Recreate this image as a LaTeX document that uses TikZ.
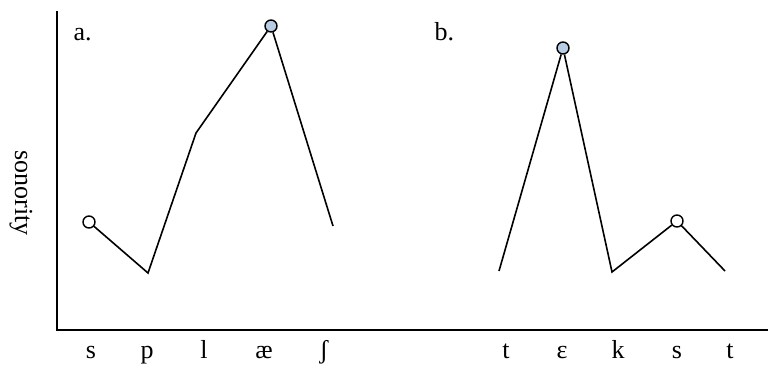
\documentclass[tikz,border=0pt]{standalone}
\usepackage{fontspec}
\setmainfont{Liberation Serif}
\usepackage{tikz}
\usetikzlibrary{positioning}

\definecolor{peakblue}{RGB}{184,204,228}

\begin{document}
\begin{tikzpicture}[
  x=1pt, y=-1pt,
  axis/.style={line width=2.2pt, line cap=rect},
  curve/.style={line width=1.6pt},
  margin/.style={draw, circle, line width=1.4pt, inner sep=0pt,
    minimum size=12pt, fill=white},
  peak/.style={margin, fill=peakblue},
  seg/.style={font=\fontsize{26}{31}\selectfont, anchor=base, inner sep=0pt},
  lbl/.style={font=\fontsize{26}{31}\selectfont},
]
\useasboundingbox (0,0) rectangle (768,365);

% --- axes ---
\coordinate (top)    at (57,12);
\coordinate (origin) at (57,330);
\coordinate (right)  at (768,330);
\draw[axis] (top) -- (origin) -- (right);

\node[lbl, rotate=-90] (ylab) at (21,193) {sonority};

% --- a. splash ---
\node[lbl, anchor=base west] (parta) at (70,40) {a.};

\node[margin]   (a1) at (89,222) {};
\coordinate     (a2) at (148,273);
\coordinate     (a3) at (196,133);
\node[peak]     (a4) at (271,26) {};
\coordinate     (a5) at (333,226);

\draw[curve] (a1) -- (a2) -- (a3) -- (a4);
\draw[curve] (a4) -- (a5);

\node[seg] (sa1) at (91,358)  {s};
\node[seg] (sa2) at (147,358) {p};
\node[seg] (sa3) at (204,358) {l};
\node[seg] (sa4) at (264,358) {æ};
\node[seg] (sa5) at (324,358) {ʃ};

% --- b. text ---
\node[lbl, anchor=base west] (partb) at (431,40) {b.};

\coordinate     (b1) at (499,271);
\node[peak]     (b2) at (563,48) {};
\coordinate     (b3) at (612,272);
\node[margin]   (b4) at (677,221) {};
\coordinate     (b5) at (725,271);

\draw[curve] (b1) -- (b2);
\draw[curve] (b2) -- (b3) -- (b4);
\draw[curve] (b4) -- (b5);

\node[seg] (sb1) at (506,358) {t};
\node[seg] (sb2) at (562,358) {ε};
\node[seg] (sb3) at (618,358) {k};
\node[seg] (sb4) at (677,358) {s};
\node[seg] (sb5) at (730,358) {t};

\end{tikzpicture}
\end{document}
